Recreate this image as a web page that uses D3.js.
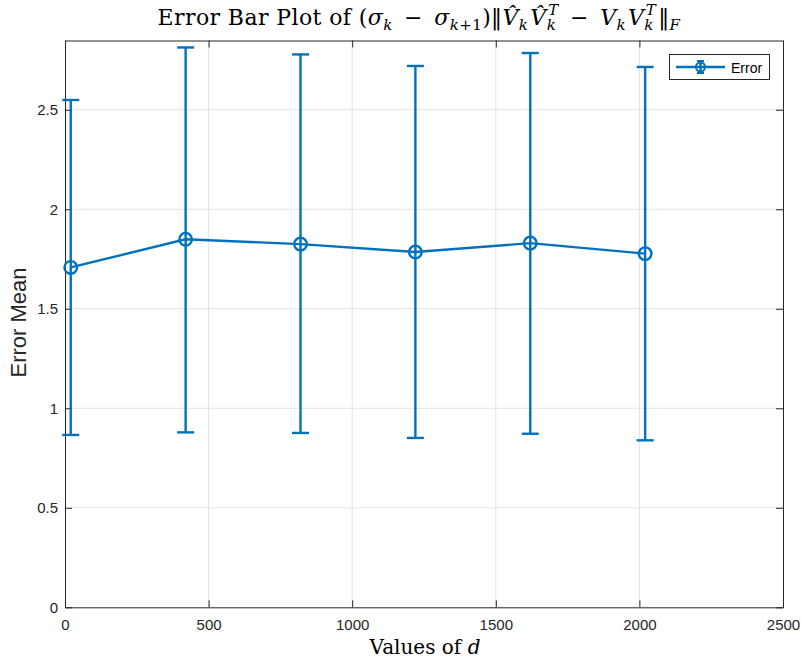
<!DOCTYPE html>
<html lang="en">
  <head>
    <meta charset="utf-8">
    <title>Error bar plot</title>
    <style>
      body {margin: 0; background: #fff;}
      svg {display: block;}
      .tick text {font-family: "Liberation Sans", Arial, sans-serif; font-size: 15px; fill: #262626;}
      .title, .xlabel {font-family: "DejaVu Serif", "Liberation Serif", serif; fill: #000;}
    </style>
    <script src="https://d3js.org/d3.v7.min.js"></script>
  </head>
  <body>
    <script>
      // data
      var dValues = [20, 420, 820, 1220, 1620, 2020];
      var meanValues = [1.708, 1.849, 1.825, 1.785, 1.830, 1.777];
      var upperValues = [2.549, 2.813, 2.778, 2.720, 2.785, 2.715];
      var lowerValues = [0.866, 0.879, 0.876, 0.851, 0.872, 0.839];
      var xTicks = [0, 500, 1000, 1500, 2000, 2500];
      var yTicks = [0, 0.5, 1, 1.5, 2, 2.5];

      var width = 801, height = 661;
      var plotLeft = 65, plotRight = 783, plotTop = 40.5, plotBottom = 607.3;
      var blue = "#0072BD";
      var axisColor = "#262626";

      var svg = d3.select("body").append("svg")
        .attr("width", width)
        .attr("height", height);

      var x = d3.scaleLinear().domain([0, 2500]).range([plotLeft, plotRight]);
      var y = d3.scaleLinear().domain([0, 2.848]).range([plotBottom, plotTop]);

      // grid
      var grid = svg.append("g");
      grid.selectAll("line.gx").data(xTicks.slice(1, -1)).enter().append("line")
        .attr("x1", d => x(d)).attr("x2", d => x(d))
        .attr("y1", plotTop).attr("y2", plotBottom)
        .attr("stroke", "#e3e3e3").attr("stroke-width", 1);
      grid.selectAll("line.gy").data(yTicks.slice(1)).enter().append("line")
        .attr("y1", d => y(d)).attr("y2", d => y(d))
        .attr("x1", plotLeft).attr("x2", plotRight)
        .attr("stroke", "#e3e3e3").attr("stroke-width", 1);

      // axes (ticks inward, box all round)
      var tk = 7;
      var xAxis = svg.append("g").attr("transform", "translate(0," + plotBottom + ")")
        .call(d3.axisBottom(x).tickValues(xTicks).tickSize(-tk).tickSizeOuter(0).tickFormat(d3.format("d")));
      var yAxis = svg.append("g").attr("transform", "translate(" + plotLeft + ",0)")
        .call(d3.axisLeft(y).tickValues(yTicks).tickSize(-tk).tickSizeOuter(0).tickFormat(d => String(d)));
      var xTop = svg.append("g").attr("transform", "translate(0," + plotTop + ")")
        .call(d3.axisTop(x).tickValues(xTicks).tickSize(-tk).tickSizeOuter(0).tickFormat(""));
      var yRight = svg.append("g").attr("transform", "translate(" + plotRight + ",0)")
        .call(d3.axisRight(y).tickValues(yTicks).tickSize(-tk).tickSizeOuter(0).tickFormat(""));
      [xAxis, yAxis, xTop, yRight].forEach(function(g) {
        g.select(".domain").attr("stroke", axisColor).attr("stroke-width", 1);
        g.selectAll(".tick line").attr("stroke", axisColor);
      });
      xAxis.selectAll(".tick text").attr("y", 12).attr("dy", "0.71em");
      yAxis.selectAll(".tick text").attr("x", -7);

      // error bars
      var cap = 8.5;
      var bars = svg.append("g").attr("stroke", blue).attr("stroke-width", 2.4).attr("fill", "none");
      bars.selectAll("line.v").data(dValues).enter().append("line")
        .attr("x1", d => x(d)).attr("x2", d => x(d))
        .attr("y1", (d, i) => y(lowerValues[i])).attr("y2", (d, i) => y(upperValues[i]));
      bars.selectAll("line.top").data(dValues).enter().append("line")
        .attr("x1", d => x(d) - cap).attr("x2", d => x(d) + cap)
        .attr("y1", (d, i) => y(upperValues[i])).attr("y2", (d, i) => y(upperValues[i]));
      bars.selectAll("line.bot").data(dValues).enter().append("line")
        .attr("x1", d => x(d) - cap).attr("x2", d => x(d) + cap)
        .attr("y1", (d, i) => y(lowerValues[i])).attr("y2", (d, i) => y(lowerValues[i]));

      // mean line and markers
      var line = d3.line().x(d => x(d[0])).y(d => y(d[1]));
      svg.append("path")
        .datum(d3.zip(dValues, meanValues))
        .attr("d", line)
        .attr("fill", "none").attr("stroke", blue).attr("stroke-width", 2.4);
      svg.append("g").selectAll("circle").data(dValues).enter().append("circle")
        .attr("cx", d => x(d)).attr("cy", (d, i) => y(meanValues[i]))
        .attr("r", 6.3)
        .attr("fill", "none").attr("stroke", blue).attr("stroke-width", 2.4);

      // legend
      var lg = svg.append("g");
      lg.append("rect").attr("x", 669.5).attr("y", 54.5).attr("width", 100).attr("height", 25)
        .attr("fill", "#fff").attr("stroke", axisColor).attr("stroke-width", 1);
      lg.append("line").attr("x1", 676).attr("x2", 725).attr("y1", 67).attr("y2", 67)
        .attr("stroke", blue).attr("stroke-width", 2.4);
      lg.append("line").attr("x1", 700.5).attr("x2", 700.5).attr("y1", 61).attr("y2", 73)
        .attr("stroke", blue).attr("stroke-width", 2.4);
      lg.append("line").attr("x1", 697).attr("x2", 704).attr("y1", 61).attr("y2", 61)
        .attr("stroke", blue).attr("stroke-width", 2);
      lg.append("line").attr("x1", 697).attr("x2", 704).attr("y1", 73).attr("y2", 73)
        .attr("stroke", blue).attr("stroke-width", 2);
      lg.append("circle").attr("cx", 700.5).attr("cy", 67).attr("r", 4.5)
        .attr("fill", "none").attr("stroke", blue).attr("stroke-width", 2);
      lg.append("text").attr("x", 731).attr("y", 72.5)
        .style("font-family", "Liberation Sans, Arial, sans-serif").style("font-size", "14px")
        .text("Error");

      // title (LaTeX-like, built from tspans)
      var t = svg.append("text").attr("class", "title")
        .attr("x", 419).attr("y", 25).attr("text-anchor", "middle")
        .style("font-size", "22px").style("letter-spacing", "0.4px");
      var sub = "15px";
      t.append("tspan").text("Error Bar Plot of (");
      t.append("tspan").style("font-style", "italic").text("σ");
      t.append("tspan").attr("dy", 5).style("font-size", sub).style("font-style", "italic").text("k");
      t.append("tspan").attr("dy", -5).text("\u2002−\u2002");
      t.append("tspan").style("font-style", "italic").text("σ");
      t.append("tspan").attr("dy", 5).style("font-size", sub).style("font-style", "italic").text("k");
      t.append("tspan").style("font-size", sub).text("+1");
      t.append("tspan").attr("dy", -5).text(")‖");
      t.append("tspan").style("font-style", "italic").text("V\u0302");
      t.append("tspan").attr("dy", 5).style("font-size", sub).style("font-style", "italic").text("k");
      t.append("tspan").attr("dy", -5).attr("dx", 2).style("font-style", "italic").text("V\u0302");
      t.append("tspan").attr("dy", 5).style("font-size", sub).style("font-style", "italic").text("k");
      t.append("tspan").attr("dx", -8).attr("dy", -15).style("font-size", sub).style("font-style", "italic").text("T");
      t.append("tspan").attr("dy", 10).text("\u2002−\u2002");
      t.append("tspan").style("font-style", "italic").text("V");
      t.append("tspan").attr("dy", 5).style("font-size", sub).style("font-style", "italic").text("k");
      t.append("tspan").attr("dy", -5).attr("dx", 2).style("font-style", "italic").text("V");
      t.append("tspan").attr("dy", 5).style("font-size", sub).style("font-style", "italic").text("k");
      t.append("tspan").attr("dx", -8).attr("dy", -15).style("font-size", sub).style("font-style", "italic").text("T");
      t.append("tspan").attr("dy", 10).attr("dx", 2).text("‖");
      t.append("tspan").attr("dy", 5).style("font-size", sub).style("font-style", "italic").text("F");

      // axis labels
      var xl = svg.append("text").attr("class", "xlabel")
        .attr("x", 425).attr("y", 654).attr("text-anchor", "middle")
        .style("font-size", "20px");
      xl.append("tspan").text("Values of ");
      xl.append("tspan").style("font-style", "italic").text("d");

      svg.append("text")
        .attr("transform", "translate(25.5,322.5) rotate(-90)")
        .attr("text-anchor", "middle")
        .style("font-family", "Liberation Sans, Arial, sans-serif").style("font-size", "22px")
        .attr("fill", axisColor)
        .text("Error Mean");
    </script>
  </body>
</html>
